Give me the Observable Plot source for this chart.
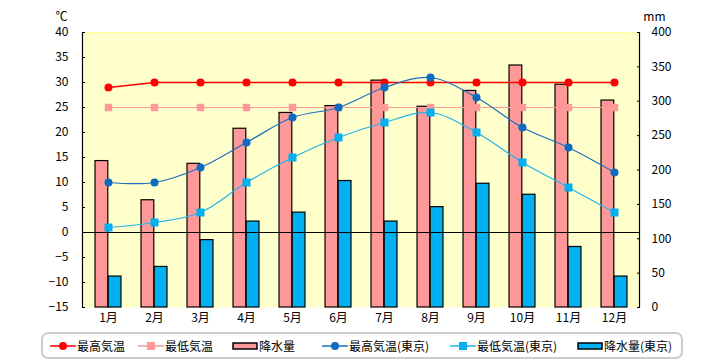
<!DOCTYPE html>
<html><head><meta charset="utf-8">
<script src="https://cdn.jsdelivr.net/npm/d3@7"></script>
<script src="https://cdn.jsdelivr.net/npm/@observablehq/plot@0.6"></script>
<style>
body{margin:0;background:#fff;font-family:"Noto Sans CJK JP",sans-serif;width:720px;height:360px;overflow:hidden;}
#legend{position:relative;width:642px;height:27px;margin:4px 0 0 41px;border:2px solid #cdcdcd;border-radius:7px;box-sizing:border-box;}
.item{position:absolute;top:0;height:23px;display:flex;align-items:center;font-size:12px;color:#000;white-space:nowrap;}
.item svg{display:block;margin-right:1px;}
</style></head><body><div id="chart"></div><div id="legend"></div>
<script>
const months = ["1月","2月","3月","4月","5月","6月","7月","8月","9月","10月","11月","12月"];
const maxTemp = [29,30,30,30,30,30,30,30,30,30,30,30];
const minTemp = [25,25,25,25,25,25,25,25,25,25,25,25];
const precip = [213,156,209,260,283,293,330,292,315,352,324,301];
const tokyoMax = [10,10,13,18,23,25,29,31,27,21,17,12];
const tokyoMin = [1,2,4,10,15,19,22,24,20,14,9,4];
const tokyoPrecip = [45,59,98,125,138,184,125,146,180,164,88,45];
const leftTicks = [-15,-10,-5,0,5,10,15,20,25,30,35,40];
const rightTicks = [0,50,100,150,200,250,300,350,400];
const seriesNames = ["最高気温","最低気温","降水量","最高気温(東京)","最低気温(東京)","降水量(東京)"];

const toT = mm => -15 + mm * 55 / 400;
const toMM = t => Math.round((t + 15) * 400 / 55);
const rows = months.map((m, i) => ({month: m, max: maxTemp[i], min: minTemp[i], p: precip[i], tmax: tokyoMax[i], tmin: tokyoMin[i], tp: tokyoPrecip[i]}));

const W = 720, ML = 82, MR = 81;
const bw = (W - ML - MR) / 12, barW = 13.2;
const inner = bw / 2, outer = bw / 2 - barW;
const font = '"Noto Sans CJK JP", sans-serif';

const chart = Plot.plot({
  width: W, height: 328, marginTop: 32, marginBottom: 21, marginLeft: ML, marginRight: MR,
  style: {fontFamily: font, fontSize: "12px", color: "#000", background: "#fff", overflow: "visible"},
  x: {domain: months, type: "band", padding: 0},
  y: {domain: [-15, 40]},
  marks: [
    Plot.frame({fill: "#FFFFCC"}),
    Plot.frame({anchor: "top", stroke: "#FFFF99"}),
    Plot.barY(rows, {x: "month", y1: -15, y2: d => toT(d.p), fill: "#FF9999", stroke: "#000", strokeWidth: 1.2, insetLeft: outer, insetRight: inner}),
    Plot.barY(rows, {x: "month", y1: -15, y2: d => toT(d.tp), fill: "#00B0F0", stroke: "#000", strokeWidth: 1.2, insetLeft: inner, insetRight: outer}),
    Plot.ruleY([0], {stroke: "#000", strokeWidth: 1.2}),
    Plot.line(rows, {x: "month", y: "max", stroke: "#FF0000", strokeWidth: 1.5}),
    Plot.dot(rows, {x: "month", y: "max", r: 4, fill: "#FF0000"}),
    Plot.line(rows, {x: "month", y: "min", stroke: "#FF9999", strokeWidth: 1.2}),
    Plot.dot(rows, {x: "month", y: "min", symbol: "square", r: 4.2, fill: "#FF9999"}),
    Plot.line(rows, {x: "month", y: "tmax", stroke: "#1C6FC0", strokeWidth: 1.2, curve: "catmull-rom"}),
    Plot.dot(rows, {x: "month", y: "tmax", r: 4, fill: "#0D6CC0"}),
    Plot.line(rows, {x: "month", y: "tmin", stroke: "#22B4EE", strokeWidth: 1.2, curve: "catmull-rom"}),
    Plot.dot(rows, {x: "month", y: "tmin", symbol: "square", r: 4.5, fill: "#00B0F0"}),
    Plot.frame({anchor: "left", stroke: "#000", strokeWidth: 1.2}),
    Plot.frame({anchor: "right", stroke: "#000", strokeWidth: 1.2}),
    Plot.axisY(leftTicks, {anchor: "left", tickSize: -3, tickPadding: 17, label: null, tickFormat: d => d < 0 ? "−" + Math.abs(d) : String(d)}),
    Plot.axisY(rightTicks.map(toT), {anchor: "right", tickSize: -3, tickPadding: 15, label: null, tickFormat: toMM}),
    Plot.axisX({tickSize: 0, tickPadding: 6, label: null}),
    Plot.text(["℃"], {frameAnchor: "top-left", dx: -27, dy: -20, fontSize: 12}),
    Plot.text(["mm"], {frameAnchor: "top-right", dx: 26, dy: -20, fontSize: 12})
  ]
});
document.getElementById("chart").appendChild(chart);

// legend
const legendSpec = [
  {kind: "line", color: "#FF0000", marker: "circle", mcolor: "#FF0000", left: 7},
  {kind: "line", color: "#FF9999", marker: "square", mcolor: "#FF9999", left: 95},
  {kind: "bar", color: "#FF9999", left: 189},
  {kind: "line", color: "#1C6FC0", marker: "circle", mcolor: "#0D6CC0", left: 279},
  {kind: "line", color: "#22B4EE", marker: "square", mcolor: "#00B0F0", left: 407},
  {kind: "bar", color: "#00B0F0", left: 534}
];
const legend = document.getElementById("legend");
legendSpec.forEach((s, i) => {
  const div = document.createElement("div");
  div.className = "item";
  div.style.left = s.left + "px";
  let sym;
  if (s.kind === "line") {
    const m = s.marker === "circle"
      ? `<circle cx="13" cy="6" r="4" fill="${s.mcolor}"/>`
      : `<rect x="9" y="2" width="8" height="8" fill="${s.mcolor}"/>`;
    sym = `<svg width="26" height="12"><line x1="0" y1="6" x2="26" y2="6" stroke="${s.color}" stroke-width="1.5"/>${m}</svg>`;
  } else {
    sym = `<svg width="26" height="12"><rect x="1" y="3" width="24" height="6" fill="${s.color}" stroke="#000" stroke-width="1.5"/></svg>`;
  }
  div.innerHTML = sym + `<span>${seriesNames[i]}</span>`;
  legend.appendChild(div);
});
</script>
</body></html>
